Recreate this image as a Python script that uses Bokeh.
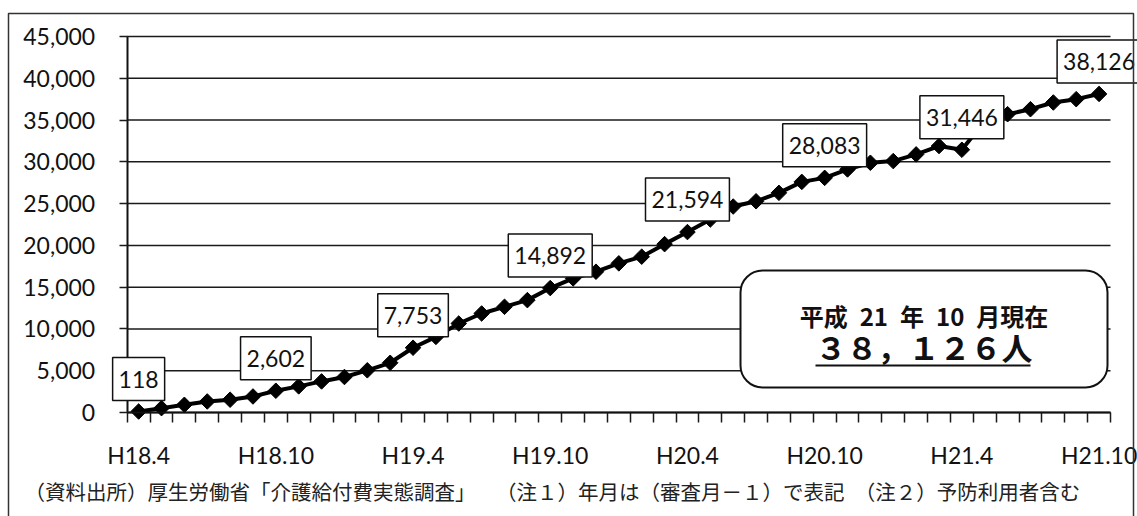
import math
from bokeh.plotting import figure
from bokeh.models import (Range1d, FixedTicker, NumeralTickFormatter, Label,
                          BoxAnnotation)
from bokeh.embed import file_html
from bokeh.resources import INLINE

# 月次（審査月－1）の利用者数
months = [
    "H18.4", "H18.5", "H18.6", "H18.7", "H18.8", "H18.9", "H18.10", "H18.11", "H18.12",
    "H19.1", "H19.2", "H19.3", "H19.4", "H19.5", "H19.6", "H19.7", "H19.8", "H19.9",
    "H19.10", "H19.11", "H19.12", "H20.1", "H20.2", "H20.3", "H20.4", "H20.5", "H20.6",
    "H20.7", "H20.8", "H20.9", "H20.10", "H20.11", "H20.12", "H21.1", "H21.2", "H21.3",
    "H21.4", "H21.5", "H21.6", "H21.7", "H21.8", "H21.9", "H21.10",
]
counts = [
    118, 520, 920, 1320, 1530, 1920, 2602, 3130, 3720,
    4250, 5050, 5950, 7753, 9050, 10650, 11850, 12650, 13450,
    14892, 16050, 16850, 17850, 18650, 20150, 21594, 23100, 24650,
    25280, 26290, 27600, 28083, 29090, 29890, 30090, 30890, 31890,
    31446, 34900, 35700, 36300, 37100, 37500, 38126,
]
tick_labels = ["H18.4", "H18.10", "H19.4", "H19.10", "H20.4", "H20.10", "H21.4", "H21.10"]
y_ticks = [0, 5000, 10000, 15000, 20000, 25000, 30000, 35000, 40000, 45000]

summary_head = "平成\u200221\u2002年\u200210\u2002月現在"
summary_total = "３８，１２６人"
footnote = ("（資料出所）厚生労働省「介護給付費実態調査」　　"
            "（注１）年月は（審査月－１）で表記　（注２）予防利用者含む")

x = list(range(len(months)))
tick_pos = [months.index(t) for t in tick_labels]

NUM_FONT = "Lato"
JP_FONT = "Noto Sans CJK JP"
INK = "#111111"

# The frame covers the whole canvas; the axes sit at fixed data locations
# so that call-outs and notes can reach into the margins without clipping.
W, H = 1137, 516
AX_L, AX_R, AX_T, AX_B = 126.7, 1110.0, 36.0, 412.0
n = len(months)
ppx = (AX_R - AX_L) / n                 # pixels per month
ppy = (AX_B - AX_T) / y_ticks[-1]       # pixels per person
x_lo = -0.5 - AX_L / ppx
x_hi = n - 0.5 + (W - AX_R) / ppx
y_lo = -(H - AX_B) / ppy
y_hi = y_ticks[-1] + AX_T / ppy


def dx(px):
    return x_lo + px / ppx


def dy(py):
    return y_hi - py / ppy


p = figure(width=W, height=H, output_backend="svg", toolbar_location=None,
           x_range=Range1d(x_lo, x_hi), y_range=Range1d(y_lo, y_hi),
           min_border=0, min_border_left=0, min_border_right=0,
           min_border_top=0, min_border_bottom=0)
p.outline_line_color = None
p.background_fill_color = "white"
p.border_fill_color = "white"
p.xgrid.visible = False
p.ygrid.visible = False

# horizontal grid lines across the month span
p.segment(x0=[-0.5] * len(y_ticks), x1=[n - 0.5] * len(y_ticks), y0=y_ticks, y1=y_ticks,
          line_color="#1a1a1a", line_width=1.5, level="underlay")

# y axis
yax = p.yaxis[0]
yax.fixed_location = -0.5
yax.bounds = (y_ticks[0], y_ticks[-1])
yax.ticker = FixedTicker(ticks=y_ticks)
yax.formatter = NumeralTickFormatter(format="0,0")
yax.axis_line_color = INK
yax.axis_line_width = 2
yax.major_tick_out = 8
yax.major_tick_in = 0
yax.major_tick_line_color = "#1a1a1a"
yax.major_tick_line_width = 1.5
yax.minor_tick_line_color = None
yax.major_label_standoff = 24
yax.major_label_text_font = NUM_FONT
yax.major_label_text_font_size = "23px"
yax.major_label_text_color = INK

# x axis: ticks on month boundaries, labels every six months
xax = p.xaxis[0]
xax.fixed_location = 0
xax.bounds = (-0.5, n - 0.5)
xax.ticker = FixedTicker(ticks=tick_pos,
                         minor_ticks=[i - 0.5 for i in range(n + 1)])
xax.major_label_overrides = {pos: lab for pos, lab in zip(tick_pos, tick_labels)}
xax.axis_line_color = INK
xax.axis_line_width = 2
xax.major_tick_out = 10
xax.major_tick_in = 0
xax.major_tick_line_color = None
xax.minor_tick_out = 10
xax.minor_tick_in = 0
xax.minor_tick_line_color = "#1a1a1a"
xax.minor_tick_line_width = 1.5
xax.major_label_standoff = 18
xax.major_label_text_font = NUM_FONT
xax.major_label_text_font_size = "23px"
xax.major_label_text_color = INK

# series
p.line(x, counts, line_color="black", line_width=4)
p.scatter(x, counts, marker="square", angle=math.pi / 4, size=11,
          fill_color="black", line_color="black")

# value call-outs every six months
for i in tick_pos:
    p.add_layout(Label(x=i, y=counts[i], text=f"{counts[i]:,}",
                       text_align="center", text_baseline="bottom", y_offset=11,
                       text_font=NUM_FONT, text_font_size="23px", text_color=INK,
                       background_fill_color="white", border_line_color=INK,
                       border_line_width=1.5,
                       padding=dict(left=6, right=6, top=13, bottom=13)))

# summary box
p.add_layout(BoxAnnotation(left=dx(740), right=dx(1107), top=dy(270), bottom=dy(387),
                           fill_color="white", fill_alpha=1.0,
                           line_color=INK, line_alpha=1.0, line_width=2,
                           border_radius=22))
box_cx = dx((740 + 1107) / 2)
p.add_layout(Label(x=box_cx, y=dy(315), text=summary_head, text_align="center",
                   text_baseline="middle", text_font=JP_FONT, text_font_style="bold",
                   text_font_size="24px", text_color=INK))
p.add_layout(Label(x=box_cx, y=dy(346), text=summary_total, text_align="center",
                   text_baseline="middle", text_font=JP_FONT, text_font_style="bold",
                   text_font_size="31px", text_color=INK))
p.add_layout(BoxAnnotation(left=dx(815), right=dx(1030), top=dy(364), bottom=dy(366),
                           fill_color=INK, fill_alpha=1.0, line_color=None))

# footnote
p.add_layout(Label(x=dx(24), y=dy(490), text=footnote, text_align="left",
                   text_baseline="middle", text_font=JP_FONT, text_font_size="20.5px",
                   text_color="#222222"))

# outer frame (open at the bottom)
p.add_layout(BoxAnnotation(left=dx(8), right=dx(1133), top=dy(13), bottom=dy(600),
                           fill_alpha=0, line_color="#333333", line_alpha=1.0,
                           line_width=1.5))

open("out.html", "w").write(file_html(p, INLINE))
